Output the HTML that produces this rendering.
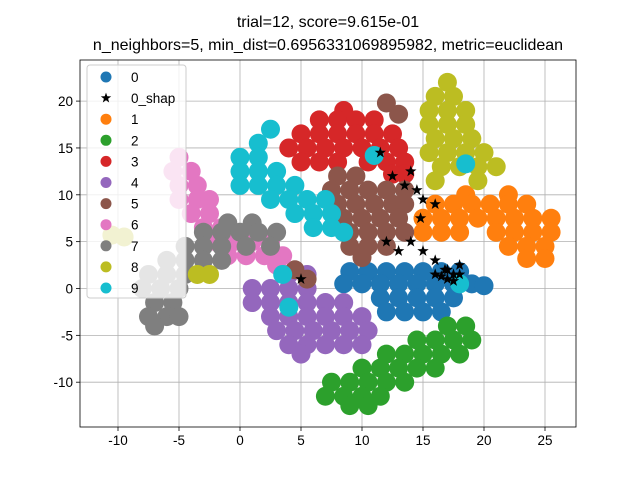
<!DOCTYPE html>
<html><head><meta charset="utf-8"><style>
body{margin:0;background:#fff;font-family:"Liberation Sans",sans-serif;}
svg text{font-family:"Liberation Sans",sans-serif;}
</style></head><body>
<svg id="chart" width="640" height="480" viewBox="0 0 640 480">
<text x="328" y="27" text-anchor="middle" font-size="16">trial=12, score=9.615e-01</text>
<text x="328" y="50" text-anchor="middle" font-size="16">n_neighbors=5, min_dist=0.6956331069895982, metric=euclidean</text>
<g id="grid"></g><g id="marks"></g><g id="axes"></g><g id="legend"></g>
</svg>
<script>
const xTicks=[-10,-5,0,5,10,15,20,25];
const yTicks=[-10,-5,0,5,10,15,20];
const seriesNames=["0","0_shap","1","2","3","4","5","6","7","8","9"];
const seriesColors=["#1f77b4","#000","#ff7f0e","#2ca02c","#d62728","#9467bd","#8c564b","#e377c2","#7f7f7f","#bcbd22","#17becf"];
const c0=[[9,1.8],[10.5,1.8],[12,1.8],[13.5,1.8],[15,1.8],[16.5,1.8],[18,1.8],[8.5,0.5],[10,0.5],[11.5,0.5],[13,0.5],[14.5,0.5],[16,0.5],[17.5,0.5],[19,0.5],[20,0.3],[11.5,-1],[13,-1],[14.5,-1],[16,-1],[17.5,-1],[12,-2.5],[13.5,-2.5],[15,-2.5],[16.5,-2.5]];
const c1=[[18.5,10],[22,10],[16,9],[17.5,9],[19,9],[20.5,9],[22,9],[23.5,9],[15,7.5],[16.5,7.5],[18,7.5],[19.5,7.5],[21,7.5],[22.5,7.5],[24,7.5],[25.5,7.5],[15,6],[16.5,6],[18,6],[21,6],[22.5,6],[24,6],[25.5,6],[22,4.5],[23.5,4.5],[25,4.5],[23.5,3.2],[25,3.2]];
const c2=[[17,-4],[18.5,-4],[14.5,-5.5],[16,-5.5],[17.5,-5.5],[19,-5.5],[12,-7],[13.5,-7],[15,-7],[16.5,-7],[18,-7],[10,-8.5],[11.5,-8.5],[13,-8.5],[14.5,-8.5],[16,-8.5],[7.5,-10],[9,-10],[10.5,-10],[12,-10],[13.5,-10],[7,-11.5],[8.5,-11.5],[10,-11.5],[11.5,-11.5],[9,-12.5],[10.5,-12.5]];
const c3=[[8.5,19],[6.5,18],[8,18],[9.5,18],[11,18],[5,16.5],[6.5,16.5],[8,16.5],[9.5,16.5],[11,16.5],[12.5,16.5],[4,15],[5.5,15],[7,15],[8.5,15],[10,15],[11.5,15],[13,15],[5,13.5],[6.5,13.5],[8,13.5],[10.5,13.5],[12,13.5],[13.5,13.5],[12.5,12.2],[13.5,12.2]];
const c4=[[4,1.5],[5.5,1.5],[1,0],[2.5,0],[4,0],[5.5,0],[1,-1.5],[2.5,-1.5],[4,-1.5],[5.5,-1.5],[7,-1.5],[8.5,-1.5],[2.5,-3],[4,-3],[5.5,-3],[7,-3],[8.5,-3],[10,-3],[3,-4.5],[4.5,-4.5],[6,-4.5],[7.5,-4.5],[9,-4.5],[10.5,-4.5],[4,-6],[5.5,-6],[7,-6],[8.5,-6],[10,-6],[5,-7]];
const c5=[[8,12],[9.5,12],[7.5,10.5],[9,10.5],[10.5,10.5],[12,10.5],[13.5,10.5],[8,9],[9.5,9],[11,9],[12.5,9],[13.5,9],[8.5,7.5],[10,7.5],[11.5,7.5],[13,7.5],[9,6],[10.5,6],[12,6],[13.5,6],[9,4.5],[10.5,4.5],[12,4.5],[10,3.3],[12,19.8],[13,18.6],[4.5,2],[5.5,1]];
const c6=[[-5,14],[-5.5,12.5],[-4,12.5],[-5,11],[-3.5,11],[-5,9.5],[-3.5,9.5],[-2.5,9.5],[-4,8],[-2.5,8],[-3,6.5],[-1.5,6.5],[-2,5],[-0.5,5],[1,5],[2.5,5],[-1,3.5],[0.5,3.5],[2,3.5],[3.5,3.5],[3,2.5]];
const c7=[[-1,7],[1,7],[-3,6],[-1.5,6],[0,6],[1.5,6],[3,6],[-4.5,4.5],[-3,4.5],[-1.5,4.5],[0.5,4.5],[2.5,4.5],[-6,3],[-4.5,3],[-3,3],[-1.5,3],[-7.5,1.5],[-6,1.5],[-4.5,1.5],[-8,0],[-6.5,0],[-5,0],[-7,-1.5],[-5.5,-1.5],[-7.5,-3],[-6,-3],[-5,-3],[-7,-4]];
const c8=[[17,22],[16,20.5],[17.5,20.5],[15.5,19],[17,19],[18.5,19],[15.5,17.5],[17,17.5],[18.5,17.5],[16,16],[17.5,16],[19,16],[15.5,14.5],[17,14.5],[18.5,14.5],[20,14.5],[16.5,13],[18,13],[19.5,13],[21,13],[16,11.5],[19.5,11.5],[-10.5,5.7],[-9.5,5.5],[-3.5,1.5],[-2.5,1.5]];
const c9=[[2.5,17],[1.5,15.5],[0,14],[1.5,14],[0,12.5],[1.5,12.5],[3,12.5],[0,11],[1.5,11],[3,11],[4.5,11],[2.5,9.5],[4,9.5],[5.5,9.5],[7,9.5],[4.5,8],[6,8],[7.5,8],[6,6.5],[7.5,6.5],[8.5,6],[11,14.2],[18.5,13.3],[3.5,1.5],[4,-2],[18,0.5]];
const shap=[[12.5,12],[13.5,11],[14.5,10.5],[15,9.5],[16,9],[14.8,7.5],[14,5],[13,4],[15,4],[16,3],[17,2],[16,1.5],[16.5,1.3],[17,1],[17.5,1.5],[18,1.5],[16.8,2],[18,2.5],[17.5,0.8],[12,5],[5,1],[14,12.5],[11.5,14.5]];
const clusters=[c0,shap,c1,c2,c3,c4,c5,c6,c7,c8,c9];
const drawOrder=[0,2,3,4,5,6,7,8,9,10,1];
const X0=80,X1=576,Y0=60,Y1=427;
const xS=v=>240+v*12.2;
const yS=v=>288.5-v*9.37;
const NS="http://www.w3.org/2000/svg";
function mk(t,a,p){const e=document.createElementNS(NS,t);for(const k in a)e.setAttribute(k,a[k]);p.appendChild(e);return e;}
const grid=document.getElementById('grid'),axes=document.getElementById('axes'),marks=document.getElementById('marks'),leg=document.getElementById('legend');
xTicks.forEach(t=>{const x=xS(t);
const l=mk('line',{x1:x,x2:x,y1:Y0,y2:Y1,stroke:'#b0b0b0','stroke-width':0.8},grid);


mk('line',{x1:x,x2:x,y1:Y1,y2:Y1+4,stroke:'#000','stroke-width':0.8},axes);
const tx=mk('text',{x:x,y:Y1+18,'text-anchor':'middle','font-size':13.5},axes);tx.textContent=t;

});
yTicks.forEach(t=>{const y=yS(t);
const l=mk('line',{x1:X0,x2:X1,y1:y,y2:y,stroke:'#b0b0b0','stroke-width':0.8},grid);


mk('line',{x1:X0-4,x2:X0,y1:y,y2:y,stroke:'#000','stroke-width':0.8},axes);
const tx=mk('text',{x:X0-7,y:y+5,'text-anchor':'end','font-size':13.5},axes);tx.textContent=t;

});
const frame=mk('rect',{x:X0,y:Y0,width:X1-X0,height:Y1-Y0,fill:'none',stroke:'#000','stroke-width':0.8},axes);


function star(cx,cy,r){let p=[];for(let i=0;i<10;i++){const a=-Math.PI/2+i*Math.PI/5,rr=i%2?r*0.4:r;p.push((cx+rr*Math.cos(a)).toFixed(1)+','+(cy+rr*Math.sin(a)).toFixed(1));}return p.join(' ');}
drawOrder.forEach(i=>{const pts=clusters[i],col=seriesColors[i];
const g=mk('g',{},marks);


if(i===1){pts.forEach(p=>{const s=mk('polygon',{points:star(xS(p[0]),yS(p[1]),6),fill:'#000'},g);

});return;}
pts.forEach(p=>{const c=mk('circle',{cx:xS(p[0]),cy:yS(p[1]),r:9.5,fill:col},g);

});});
const box=mk('rect',{x:87,y:65,width:99,height:233,rx:3,fill:'rgba(255,255,255,0.8)',stroke:'#ccc','stroke-width':1},leg);


seriesNames.forEach((n,i)=>{const y=77+i*21.1;
const g=mk('g',{},leg);


if(i===1)mk('polygon',{points:star(106,y,5.5),fill:'#000'},g);else mk('circle',{cx:106,cy:y,r:5.5,fill:seriesColors[i]},g);
const t=mk('text',{x:131,y:y+5,'font-size':13.5},g);t.textContent=n;});
</script>
</body></html>
